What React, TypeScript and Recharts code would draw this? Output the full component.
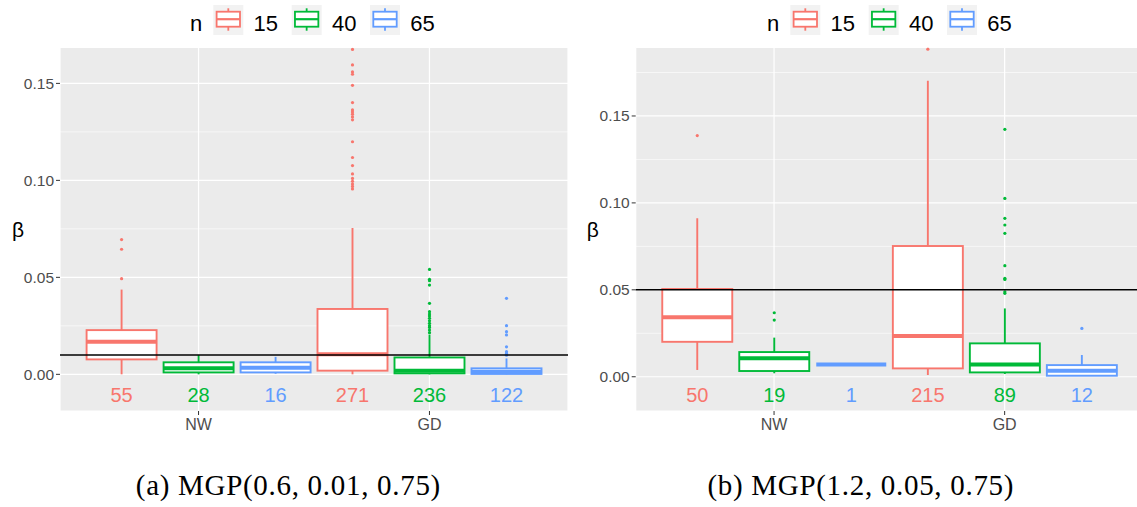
import React from 'react';
import {
  ComposedChart,
  Bar,
  XAxis,
  YAxis,
  CartesianGrid,
  ReferenceLine,
  Legend,
} from 'recharts';

// ---------- data ----------
const categories = ['NW', 'GD'];
const legendTitle = 'n';
const legendLabels = ['15', '40', '65'];
const colors = ['#F8766D', '#00BA38', '#619CFF'];
const majorTicks = [0, 0.05, 0.1, 0.15];
const minorTicksLeft = [0.025, 0.075, 0.125];
const minorTicksRight = [0.025, 0.075, 0.125, 0.175];
const countLabelY = -0.0105;

// five-number summaries [low whisker, q1, median, q3, high whisker] per category (NW, GD)
const leftBox15 = [[0, 0.0077, 0.0168, 0.0228, 0.0437], [0, 0.0019, 0.0104, 0.0337, 0.0755]];
const leftBox40 = [[0, 0.001, 0.0031, 0.0062, 0.0099], [0, 0.0005, 0.0019, 0.0087, 0.0205]];
const leftBox65 = [[0.0003, 0.001, 0.0034, 0.0062, 0.009], [0, 0.0002, 0.0013, 0.0031, 0.0082]];
const leftOut15 = [
  [0.0493, 0.0645, 0.0695],
  [0.0956, 0.0969, 0.0981, 0.0995, 0.101, 0.1033, 0.1076, 0.1118, 0.1199, 0.1312, 0.1327, 0.1341, 0.1353, 0.1363, 0.1401, 0.149, 0.1547, 0.1559, 0.1595, 0.1675],
];
const leftOut40 = [
  [],
  [0.0215, 0.0228, 0.0242, 0.0251, 0.0263, 0.0276, 0.0289, 0.0301, 0.0311, 0.0323, 0.0366, 0.046, 0.0483, 0.049, 0.0541],
];
const leftOut65 = [[], [0.0099, 0.0104, 0.0108, 0.0117, 0.0142, 0.0203, 0.022, 0.0251, 0.0392]];
const leftCounts = [[55, 271], [28, 236], [16, 122]];
const leftRefLine = 0.01;
const leftDomain = [-0.0189, 0.1686];

const rightBox15 = [[0.0039, 0.0201, 0.0342, 0.0505, 0.0911], [0.001, 0.0048, 0.0234, 0.0752, 0.1703]];
const rightBox40 = [[0.002, 0.0033, 0.0106, 0.0142, 0.0225], [0.0016, 0.0025, 0.0071, 0.0192, 0.0393]];
const rightBox65 = [[0.0071, 0.0071, 0.0071, 0.0071, 0.0071], [0.0006, 0.0006, 0.0035, 0.0067, 0.0125]];
const rightOut15 = [[0.1387], [0.1884]];
const rightOut40 = [[0.0326, 0.0368], [0.048, 0.0489, 0.056, 0.0566, 0.0639, 0.0825, 0.0873, 0.0911, 0.1026, 0.1423]];
const rightOut65 = [[], [0.0278]];
const rightCounts = [[50, 215], [19, 89], [1, 12]];
const rightRefLine = 0.05;
const rightDomain = [-0.0197, 0.1895];

const captions = ['(a) MGP(0.6, 0.01, 0.75)', '(b) MGP(1.2, 0.05, 0.75)'];

// ---------- helpers ----------
const SANS = 'Liberation Sans, Arial, sans-serif';

type Panel = {
  boxes: number[][][];
  outs: number[][][];
  counts: number[][];
};

const topOf = (p: Panel, s: number, ci: number) =>
  Math.max(...p.boxes[s][ci], ...p.outs[s][ci]);

const makeShape = (p: Panel, s: number) => (props: any) => {
  const { x, y, width, height, payload } = props;
  const ci = payload.ci;
  const top = topOf(p, s, ci);
  // linear map value -> pixel using the bar's own pixel extent [0, top]
  const py = (v: number) => y + height - (v / top) * height;
  const [lo, q1, med, q3, hi] = p.boxes[s][ci];
  const cx = x + width / 2;
  const c = colors[s];
  const sw = 1.9;
  return (
    <g>
      <line x1={cx} x2={cx} y1={py(q3)} y2={py(hi)} stroke={c} strokeWidth={sw} />
      <line x1={cx} x2={cx} y1={py(q1)} y2={py(lo)} stroke={c} strokeWidth={sw} />
      <rect
        x={x}
        y={py(q3)}
        width={width}
        height={Math.max(py(q1) - py(q3), 0)}
        fill="#fff"
        stroke={c}
        strokeWidth={sw}
      />
      <line x1={x} x2={x + width} y1={py(med)} y2={py(med)} stroke={c} strokeWidth={4} />
      {p.outs[s][ci].map((v, k) => (
        <circle key={k} cx={cx} cy={py(v)} r={1.6} fill={c} />
      ))}
      <text
        x={cx}
        y={py(countLabelY)}
        textAnchor="middle"
        dominantBaseline="central"
        fontSize={20}
        fontFamily={SANS}
        fill={c}
      >
        {p.counts[s][ci]}
      </text>
    </g>
  );
};

const renderLegend = () => (
  <svg width={260} height={40}>
    <text x={0} y={30.7} fontSize={22} fontFamily={SANS} fill="#000">
      {legendTitle}
    </text>
    {legendLabels.map((lab, i) => {
      const kx = 23.3 + i * 78.35;
      const c = colors[i];
      return (
        <g key={lab}>
          <rect x={kx} y={5} width={30} height={30} fill="#F2F2F2" />
          <line x1={kx + 15} x2={kx + 15} y1={8.3} y2={11.7} stroke={c} strokeWidth={1.8} />
          <rect x={kx + 3.3} y={11.7} width={23.4} height={15} fill="#fff" stroke={c} strokeWidth={1.8} />
          <line x1={kx + 3.3} x2={kx + 26.7} y1={19.2} y2={19.2} stroke={c} strokeWidth={2.2} />
          <line x1={kx + 15} x2={kx + 15} y1={26.7} y2={30.7} stroke={c} strokeWidth={1.8} />
          <text x={kx + 40.3} y={30.7} fontSize={22} fontFamily={SANS} fill="#000">
            {lab}
          </text>
        </g>
      );
    })}
  </svg>
);

type PanelProps = {
  panel: Panel;
  domain: number[];
  minor: number[];
  refLine: number;
  width: number;
  yAxisWidth: number;
  betaOffset: number;
  legendLeft: number;
};

const BoxPanel = ({ panel, domain, minor, refLine, width, yAxisWidth, betaOffset, legendLeft }: PanelProps) => {
  const rows = categories.map((cat, ci) => ({ cat, ci }));
  const plotW = width - yAxisWidth - 2;
  const pad = (0.6 / 2.2 - 0.25) * 2 * plotW;
  return (
    <ComposedChart
      width={width}
      height={440}
      data={rows}
      margin={{ top: 47.3, right: 2, bottom: 0, left: 0 }}
      barGap={7}
      barCategoryGap={3.5}
      style={{ fontFamily: SANS }}
    >
      <CartesianGrid fill="#EBEBEB" fillOpacity={1} stroke="#FFFFFF" strokeWidth={1.2} />
      <CartesianGrid horizontalValues={minor} vertical={false} stroke="#FFFFFF" strokeWidth={0.6} />
      <XAxis
        dataKey="cat"
        type="category"
        height={29}
        padding={{ left: pad, right: pad }}
        axisLine={false}
        tickLine={{ stroke: '#333333' }}
        tickSize={4}
        tickMargin={4}
        tick={{ fill: '#4D4D4D', fontSize: 16, fontFamily: SANS }}
      />
      <YAxis
        type="number"
        domain={domain}
        allowDataOverflow
        ticks={majorTicks}
        tickFormatter={(v: number) => v.toFixed(2)}
        width={yAxisWidth}
        axisLine={false}
        tickLine={{ stroke: '#333333' }}
        tickSize={4}
        tickMargin={2}
        tick={{ fill: '#4D4D4D', fontSize: 15.5, fontFamily: SANS }}
        label={{
          value: 'β',
          position: 'insideLeft',
          offset: betaOffset,
          angle: 0,
          style: { fontSize: 21, fill: '#000', fontFamily: SANS },
        }}
      />
      {legendLabels.map((lab, s) => (
        <Bar
          key={lab}
          dataKey={(row: any) => [0, topOf(panel, s, row.ci)]}
          name={lab}
          isAnimationActive={false}
          shape={makeShape(panel, s)}
        />
      ))}
      <ReferenceLine y={refLine} stroke="#000" strokeWidth={1.4} />
      <Legend
        layout="horizontal"
        verticalAlign="middle"
        align="center"
        content={renderLegend}
        wrapperStyle={{ position: 'absolute', top: 0, left: legendLeft, width: 260, height: 40 }}
      />
    </ComposedChart>
  );
};

const leftPanel: Panel = {
  boxes: [leftBox15, leftBox40, leftBox65],
  outs: [leftOut15, leftOut40, leftOut65],
  counts: leftCounts,
};
const rightPanel: Panel = {
  boxes: [rightBox15, rightBox40, rightBox65],
  outs: [rightOut15, rightOut40, rightOut65],
  counts: rightCounts,
};

export default function App() {
  return (
    <div
      style={{
        position: 'fixed',
        left: 0,
        top: 0,
        width: 1137,
        height: 507,
        background: '#fff',
        overflow: 'hidden',
      }}
    >
      <div style={{ position: 'absolute', left: 0, top: 0 }}>
        <BoxPanel
          panel={leftPanel}
          domain={leftDomain}
          minor={minorTicksLeft}
          refLine={leftRefLine}
          width={570}
          yAxisWidth={60}
          betaOffset={12}
          legendLeft={190}
        />
      </div>
      <div style={{ position: 'absolute', left: 570, top: 0 }}>
        <BoxPanel
          panel={rightPanel}
          domain={rightDomain}
          minor={minorTicksRight}
          refLine={rightRefLine}
          width={575}
          yAxisWidth={65.7}
          betaOffset={16.7}
          legendLeft={196.5}
        />
      </div>
      <svg style={{ position: 'absolute', left: 0, top: 440 }} width={1137} height={67}>
        {captions.map((cap, i) => (
          <text
            key={cap}
            x={i === 0 ? 288.4 : 860.8}
            y={55}
            textAnchor="middle"
            fontSize={29}
            letterSpacing={0.7}
            fontFamily="Liberation Serif, DejaVu Serif, serif"
            fill="#000"
          >
            {cap}
          </text>
        ))}
      </svg>
    </div>
  );
}
